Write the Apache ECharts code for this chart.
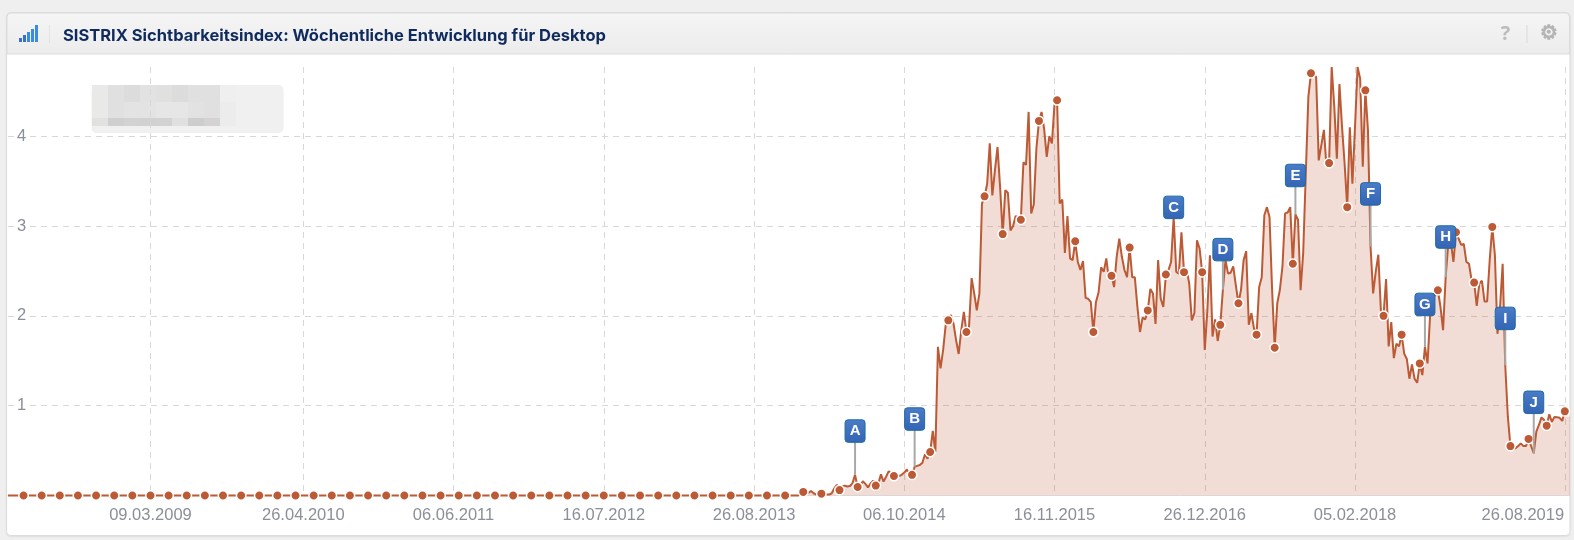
<!DOCTYPE html>
<html>
<head>
<meta charset="utf-8">
<title>SISTRIX Sichtbarkeitsindex</title>
<script src="https://cdn.jsdelivr.net/npm/echarts@6/dist/echarts.min.js"></script>
<style>
  html, body { margin: 0; padding: 0; background: #efefef; }
  #chart { width: 1574px; height: 540px; }
</style>
</head>
<body>
<div id="chart"></div>
<script>
// flat start of the curve, one value per week from 18.02.2008
const weeksFlat = [
  0,0,0,0,0,0,0,0,0,0, 0,0,0,0,0,0,0,0,0,0, 0,0,0,0,0,0,0,0,0,0,
  0,0,0,0,0,0,0,0,0,0, 0,0,0,0,0,0,0,0,0,0, 0,0,0,0,0,0,0,0,0,0,
  0,0,0,0,0,0,0,0,0,0, 0,0,0,0,0,0,0,0,0,0, 0,0,0,0,0,0,0,0,0,0,
  0,0,0,0,0,0,0,0,0,0, 0,0,0,0,0,0,0,0,0,0, 0,0,0,0,0,0,0,0,0,0,
  0,0,0,0,0,0,0,0,0,0, 0,0,0,0,0,0,0,0,0,0, 0,0,0,0,0,0,0,0,0,0,
  0,0,0,0,0,0,0,0,0,0, 0,0,0,0,0,0,0,0,0,0, 0,0,0,0,0,0,0,0,0,0,
  0,0,0,0,0,0,0,0,0,0, 0,0,0,0,0,0,0,0,0,0, 0,0,0,0,0,0,0,0,0,0,
  0,0,0,0,0,0,0,0,0,0, 0,0,0,0,0,0,0,0,0,0, 0,0,0,0,0,0,0,0,0,0,
  0,0,0,0,0,0,0,0,0,0, 0,0,0,0,0,0,0,0,0,0, 0,0,0,0,0,0,0,0,0,0,
  0,0,0,0,0,0,0,0,0,0, 0,0,0,0,0,0,0,0,0,0, 0,0,0,0,0,0,0,0,0,0
];
// from 2013 on
const weeksRise = [
  0,0,0,0,0,0,0.01,0.04,0.02,0.03,
  0.05,0.025,0.01,0.01,0.02,0.01,0.01,0.01,0.025,0.08,
  0.12,0.06,0.1,0.11,0.1,0.105,0.135,0.23,0.095,0.105,
  0.16,0.13,0.09,0.135,0.165,0.11,0.135,0.235,0.155,0.21,
  0.27,0.245,0.217,0.21,0.217,0.23,0.255,0.29,0.23,0.23,
  0.32,0.33,0.34,0.365,0.46,0.41,0.484,0.72,0.487,1.655,
  1.415,1.62,1.9,1.95,2.01,1.915,1.73,1.575,1.84,2.045,
  1.82,1.88,2.42,2.25,2.06,2.25,3.25,3.33,3.47,3.92,
  3.34,3.62,3.88,3.43,2.91,3.4,3.37,2.95,3.0,3.11,
  3.1,3.07,3.71,3.68,4.27,3.14,3.24,3.86,4.17,4.27,
  4.08,3.77,4.0,3.92,4.36,4.4,3.25,3.295,2.7,3.11,
  2.64,2.62,2.83,2.6,2.51,2.61,2.2,2.19,2.155,1.82,
  2.155,2.26,2.54,2.49,2.64,2.4,2.445,2.32,2.66,2.86,
  2.66,2.51,2.43,2.76,2.43,2.43,2.1,1.82,1.98,1.96,
  2.06,2.3,2.25,1.91,2.62,2.19,2.1,2.46,2.51,2.6,
  3.1,2.49,2.47,2.93,2.486,2.52,2.36,1.95,2.03,2.84,
  2.75,2.486,1.62,2.06,2.675,1.77,1.96,1.72,1.9,2.29,
  2.62,2.47,2.48,2.55,2.34,2.14,2.29,2.62,2.72,1.9,
  2.03,1.86,1.79,2.32,2.43,3.12,3.21,3.1,2.29,1.645,
  2.14,2.29,2.55,3.14,3.15,3.21,2.58,3.13,3.07,2.285,
  2.7,3.58,4.44,4.7,4.68,4.66,3.73,3.9,4.07,3.66,
  3.7,4.77,4.33,3.75,4.58,4.1,3.69,3.21,4.1,3.47,
  4.1,4.77,4.64,3.66,4.51,4.07,2.77,2.25,2.49,2.68,
  2.06,2.0,2.41,1.66,1.93,1.53,1.69,1.66,1.79,1.58,
  1.52,1.3,1.46,1.3,1.255,1.47,1.34,1.655,1.47,2.01,
  2.21,2.23,2.285,2.1,1.84,2.43,2.8,2.82,2.6,2.93,
  2.86,2.79,2.8,2.6,2.58,2.4,2.37,2.11,2.36,2.39,
  2.16,2.16,2.62,2.99,2.68,1.8,2.1,2.58,1.45,0.88,
  0.55,0.525,0.525,0.55,0.58,0.55,0.55,0.63,0.55,0.47,
  0.71,0.785,0.87,0.84,0.777,0.905,0.82,0.875,0.87,0.865,
  0.83,0.937
];
// the filled area runs on a little past the last measured week
const fillTail = [0.88, 0.88];
const tickLabels = ['09.03.2009','26.04.2010','06.06.2011','16.07.2012','26.08.2013','06.10.2014','16.11.2015','26.12.2016','05.02.2018','26.08.2019'];
const yTicks = [1, 2, 3, 4];
// event flags: week index, letter, height of the flag on the y scale
const flagWeeks = [327, 350, 450, 469, 497, 526, 547, 555, 578, 589];
const flagLetters = ['A','B','C','D','E','F','G','H','I','J'];
const flagLevels = [0.72, 0.854, 3.21, 2.74, 3.565, 3.36, 2.13, 2.88, 1.974, 1.04];

const weekly = weeksFlat.concat(weeksRise);
const lastWeek = weekly.length - 1;

// weekly dates
const categories = [];
for (let i = 0; i < weekly.length + fillTail.length; i++) {
  const d = new Date(Date.UTC(2008, 1, 18 + i * 7));
  const dd = String(d.getUTCDate()).padStart(2, '0');
  const mm = String(d.getUTCMonth() + 1).padStart(2, '0');
  categories.push(dd + '.' + mm + '.' + d.getUTCFullYear());
}
const isTick = (i, v) => tickLabels.includes(v);

// pixelated legend placeholder, one list of three shades per column
const blurColumns = [92, 108, 124, 140, 156, 172, 188, 204, 220];
const blurShades = [
  ['#e9e9e7','#e9e9e7','#e2e1df'],
  ['#e0e0e0','#e0e0e0','#cfcfcf'],
  ['#dcdcdc','#e3e3e3','#d2d2d2'],
  ['#e2e2e2','#e3e3e3','#d1d1d1'],
  ['#e0e0de','#e6e6e6','#d2d2d2'],
  ['#dcdcdc','#e6e6e6','#e0e0e0'],
  ['#e0e0e0','#e2e2e2','#cdcdcd'],
  ['#e0e0e0','#e0e0e0','#d4d3d1'],
  ['#efefef','#ececec','#ebeded']
];
const blurRows = [[85, 17], [102, 16], [118, 8]];
const iconBars = [[19,4],[23,7],[27,10],[31,13],[35,17]];

const graphic = [
  { type: 'rect', z: -10, shape: { x: 6.5, y: 12.5, width: 1563.5, height: 523, r: 4 },
    style: { fill: '#fff', stroke: '#dcdcdc', lineWidth: 1, shadowColor: 'rgba(0,0,0,0.06)', shadowBlur: 2, shadowOffsetY: 1 } },
  { type: 'rect', z: -9, shape: { x: 7, y: 13, width: 1562.5, height: 41, r: [4,4,0,0] },
    style: { fill: new echarts.graphic.LinearGradient(0,0,0,1,[{offset:0,color:'#f5f5f5'},{offset:1,color:'#ececec'}]), stroke: '#dcdcdc', lineWidth: 1 } },
  { type: 'rect', z: -9, shape: { x: 91.5, y: 85, width: 192, height: 48, r: 5 }, style: { fill: '#f0f0f0' } },
  { type: 'rect', shape: { x: 49, y: 25, width: 1, height: 18 }, style: { fill: '#e2e2e2' } },
  { type: 'rect', shape: { x: 1526.5, y: 25, width: 1, height: 18 }, style: { fill: '#dadada' } },
  { type: 'text', style: { x: 1505.5, y: 34, text: '?', align: 'center', verticalAlign: 'middle', fill: '#bcbcbc', font: 'bold 20px "Open Sans"' } },
  { type: 'text', style: { x: 1549, y: 34, text: '\u2699', align: 'center', verticalAlign: 'middle', fill: '#b4b4b4', stroke: '#b4b4b4', lineWidth: 1, font: '20px "DejaVu Sans"' } }
];
blurColumns.forEach((x, c) => blurRows.forEach((row, r) => {
  graphic.push({ type: 'rect', z: -8, shape: { x: x, y: row[0], width: 16, height: row[1] }, style: { fill: blurShades[c][r] } });
}));
iconBars.forEach((b, n) => graphic.push({ type: 'rect', shape: { x: b[0], y: 42 - b[1], width: 3, height: b[1] },
  style: { fill: n < 2 ? '#3a6fd0' : '#3a8be4' } }));

const myChart = echarts.init(document.getElementById('chart'), null, { renderer: 'canvas' });
myChart.setOption({
  animation: false,
  backgroundColor: 'transparent',
  title: {
    text: 'SISTRIX Sichtbarkeitsindex: Wöchentliche Entwicklung für Desktop',
    left: 63, top: 28, padding: 0,
    textStyle: { fontFamily: 'Inter', fontSize: 16.5, fontWeight: 700, color: '#0f2a5c' }
  },
  graphic: graphic,
  grid: { left: 8, right: 4, top: 67, bottom: 44.5 },
  xAxis: {
    type: 'category',
    data: categories,
    boundaryGap: false,
    axisLine: { lineStyle: { color: '#dedede', width: 1 } },
    axisTick: { show: false },
    axisLabel: {
      interval: isTick,
      margin: 11,
      color: '#8a8f98',
      fontFamily: 'Liberation Sans',
      fontSize: 16.5,
      // the last label sits left of its week
      formatter: v => v === tickLabels[tickLabels.length - 1] ? '{last|' + v + '}' : v,
      rich: { last: { color: '#8a8f98', fontFamily: 'Liberation Sans', fontSize: 16.5, padding: [0, 84, 0, 0] } }
    },
    splitLine: { show: true, interval: isTick, lineStyle: { type: [6, 5], color: '#d8d8d8', width: 1 } }
  },
  yAxis: {
    type: 'value',
    min: 0,
    max: 4.77,
    axisLine: { show: false },
    axisTick: { show: false, customValues: yTicks },
    axisLabel: {
      inside: true,
      customValues: yTicks,
      margin: 7,
      color: '#8a8f98',
      fontFamily: 'Liberation Sans',
      fontSize: 16.5,
      backgroundColor: '#fff',
      padding: [0, 2]
    },
    splitLine: { show: true, lineStyle: { type: [6, 5], color: '#d8d8d8', width: 1 } }
  },
  series: [
    {
      type: 'line',
      data: weekly.concat(fillTail),
      showSymbol: false,
      lineStyle: { width: 0 },
      areaStyle: { color: '#b9532f', opacity: 0.2 },
      silent: true,
      z: 2
    },
    {
      type: 'line',
      data: weekly,
      clip: false,
      showAllSymbol: true,
      symbol: 'circle',
      // a dot every 7 weeks, counted back from the last week
      symbolSize: (v, p) => (lastWeek - p.dataIndex) % 7 === 0 ? 9.5 : 0,
      lineStyle: { color: '#bc5a35', width: 2 },
      itemStyle: { color: '#bc5a35', borderColor: '#fff', borderWidth: 1.5 },
      z: 3
    },
    {
      type: 'custom',
      clip: false,
      silent: true,
      z: 5,
      data: flagWeeks.map((w, n) => [w, weekly[w], flagLevels[n]]),
      encode: { x: 0, y: [1, 2] },
      renderItem: (params, api) => {
        const foot = api.coord([api.value(0), api.value(1)]);
        const head = api.coord([api.value(0), api.value(2)]);
        return {
          type: 'group',
          children: [
            { type: 'line', shape: { x1: foot[0], y1: foot[1], x2: head[0], y2: head[1] }, style: { stroke: '#a8a8a8', lineWidth: 2 } },
            { type: 'rect', shape: { x: head[0] - 10, y: head[1] - 11, width: 20, height: 22.5, r: 3 },
              style: { fill: new echarts.graphic.LinearGradient(0,0,0,1,[{offset:0,color:'#4a7cc9'},{offset:1,color:'#3464b4'}]), stroke: '#1f6b9f', lineWidth: 1 } },
            { type: 'text', style: { x: head[0], y: head[1] + 0.5, text: flagLetters[params.dataIndex], align: 'center', verticalAlign: 'middle', fill: '#fff', font: 'bold 15px "Liberation Sans"' } }
          ]
        };
      }
    }
  ]
});
</script>
</body>
</html>
